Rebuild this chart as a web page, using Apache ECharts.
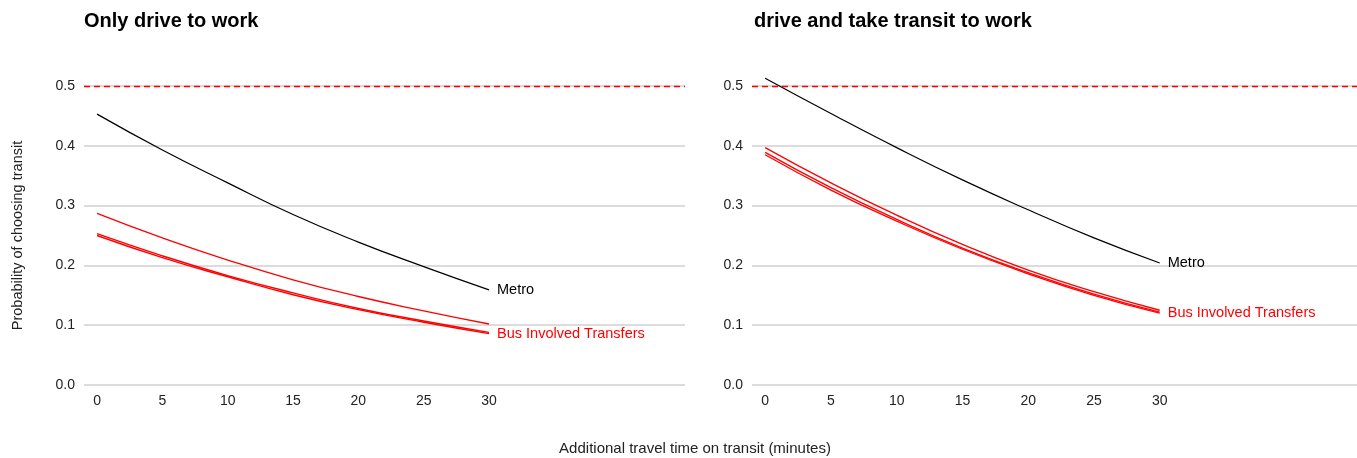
<!DOCTYPE html>
<html>
<head>
<meta charset="utf-8">
<script src="https://cdn.jsdelivr.net/npm/echarts@6/dist/echarts.min.js"></script>
<style>
  html, body { margin: 0; padding: 0; background: #fff; }
  #chart { width: 1357px; height: 458px; }
</style>
</head>
<body>
<div id="chart"></div>
<script>
// Additional minutes of travel time on transit
const minutes = [0, 5, 10, 15, 20, 25, 30];
const xTicks = [0, 5, 10, 15, 20, 25, 30];
const yTicks = [0, 0.1, 0.2, 0.3, 0.4, 0.5];
const threshold = 0.5;

// Panel 1: only drive to work
const driveMetro = [0.453, 0.393, 0.338, 0.285, 0.239, 0.198, 0.159];
const driveBusA  = [0.287, 0.246, 0.209, 0.176, 0.148, 0.124, 0.102];
const driveBusB  = [0.253, 0.216, 0.183, 0.154, 0.128, 0.107, 0.088];
const driveBusC  = [0.250, 0.213, 0.181, 0.151, 0.126, 0.105, 0.086];

// Panel 2: drive and take transit to work
const mixMetro = [0.513, 0.454, 0.397, 0.343, 0.293, 0.246, 0.204];
const mixBusA  = [0.397, 0.338, 0.284, 0.235, 0.192, 0.156, 0.125];
const mixBusB  = [0.389, 0.330, 0.277, 0.229, 0.188, 0.152, 0.122];
const mixBusC  = [0.385, 0.326, 0.274, 0.227, 0.186, 0.150, 0.120];

const panelTitles = ['Only drive to work', 'drive and take transit to work'];
const yTitle = 'Probability of choosing transit';
const xTitle = 'Additional travel time on transit (minutes)';
const metroName = 'Metro';
const busName = 'Bus Involved Transfers';

const FONT = '"Liberation Sans", Arial, sans-serif';
const pair = arr => minutes.map((m, i) => [m, arr[i]]);

function xAxisFor(idx) {
  return {
    type: 'value', gridIndex: idx, min: -1, max: 45,
    axisLine: { show: false }, axisTick: { show: false },
    splitLine: { show: false },
    axisLabel: { customValues: xTicks, color: '#222', fontSize: 14, fontFamily: FONT, margin: 9 }
  };
}
function yAxisFor(idx) {
  const ax = {
    type: 'value', gridIndex: idx, min: 0, max: 0.5, interval: 0.1,
    axisLine: { show: false }, axisTick: { show: false },
    splitLine: { show: true, lineStyle: { color: '#d0d0d0', width: 1.6 } },
    axisLabel: { color: '#222', fontSize: 14, fontFamily: FONT, margin: 9,
                 formatter: v => v.toFixed(1) }
  };
  if (idx === 0) {
    Object.assign(ax, {
      name: yTitle, nameLocation: 'middle', nameGap: 59, nameRotate: 90,
      nameTextStyle: { color: '#222', fontSize: 14.5, fontFamily: FONT }
    });
  }
  return ax;
}

function line(idx, data, color, width, label, withRef) {
  const s = {
    type: 'line', xAxisIndex: idx, yAxisIndex: idx,
    data: pair(data), smooth: true, showSymbol: false, symbol: 'none',
    clip: false, silent: true,
    lineStyle: { color: color, width: width },
    z: 3
  };
  if (label) {
    s.endLabel = { show: true, formatter: label, color: color, fontSize: 14.5,
                   fontFamily: FONT, distance: 8 };
  }
  if (withRef) {
    s.markLine = {
      silent: true, symbol: 'none', label: { show: false },
      lineStyle: { color: '#ff0000', type: [6, 4], width: 1.4 },
      data: [{ yAxis: threshold }]
    };
  }
  return s;
}

const chart = echarts.init(document.getElementById('chart'), null, { renderer: 'canvas' });
chart.setOption({
  backgroundColor: '#ffffff',
  animation: false,
  textStyle: { fontFamily: FONT },
  title: [
    { text: panelTitles[0], left: 84, top: 11, padding: 0,
      textStyle: { fontSize: 20, fontWeight: 'bold', color: '#000', fontFamily: FONT } },
    { text: panelTitles[1], left: 754, top: 11, padding: 0,
      textStyle: { fontSize: 20, fontWeight: 'bold', color: '#000', fontFamily: FONT } },
    { text: xTitle, left: 695, top: 441, textAlign: 'center', padding: 0,
      textStyle: { fontSize: 15, fontWeight: 'normal', color: '#222', fontFamily: FONT } }
  ],
  grid: [
    { left: 84, right: 672, top: 86, bottom: 73 },
    { left: 752, right: 0, top: 86, bottom: 73 }
  ],
  xAxis: [xAxisFor(0), xAxisFor(1)],
  yAxis: [yAxisFor(0), yAxisFor(1)],
  series: [
    line(0, driveBusA, '#ff0000', 1.3, null, true),
    line(0, driveBusB, '#ff0000', 1.4, null, false),
    line(0, driveBusC, '#ff0000', 1.4, busName, false),
    line(0, driveMetro, '#000000', 1.2, metroName, false),
    line(1, mixBusA, '#ff0000', 1.3, null, true),
    line(1, mixBusB, '#ff0000', 1.3, null, false),
    line(1, mixBusC, '#ff0000', 1.3, busName, false),
    line(1, mixMetro, '#000000', 1.2, metroName, false)
  ]
});
</script>
</body>
</html>
